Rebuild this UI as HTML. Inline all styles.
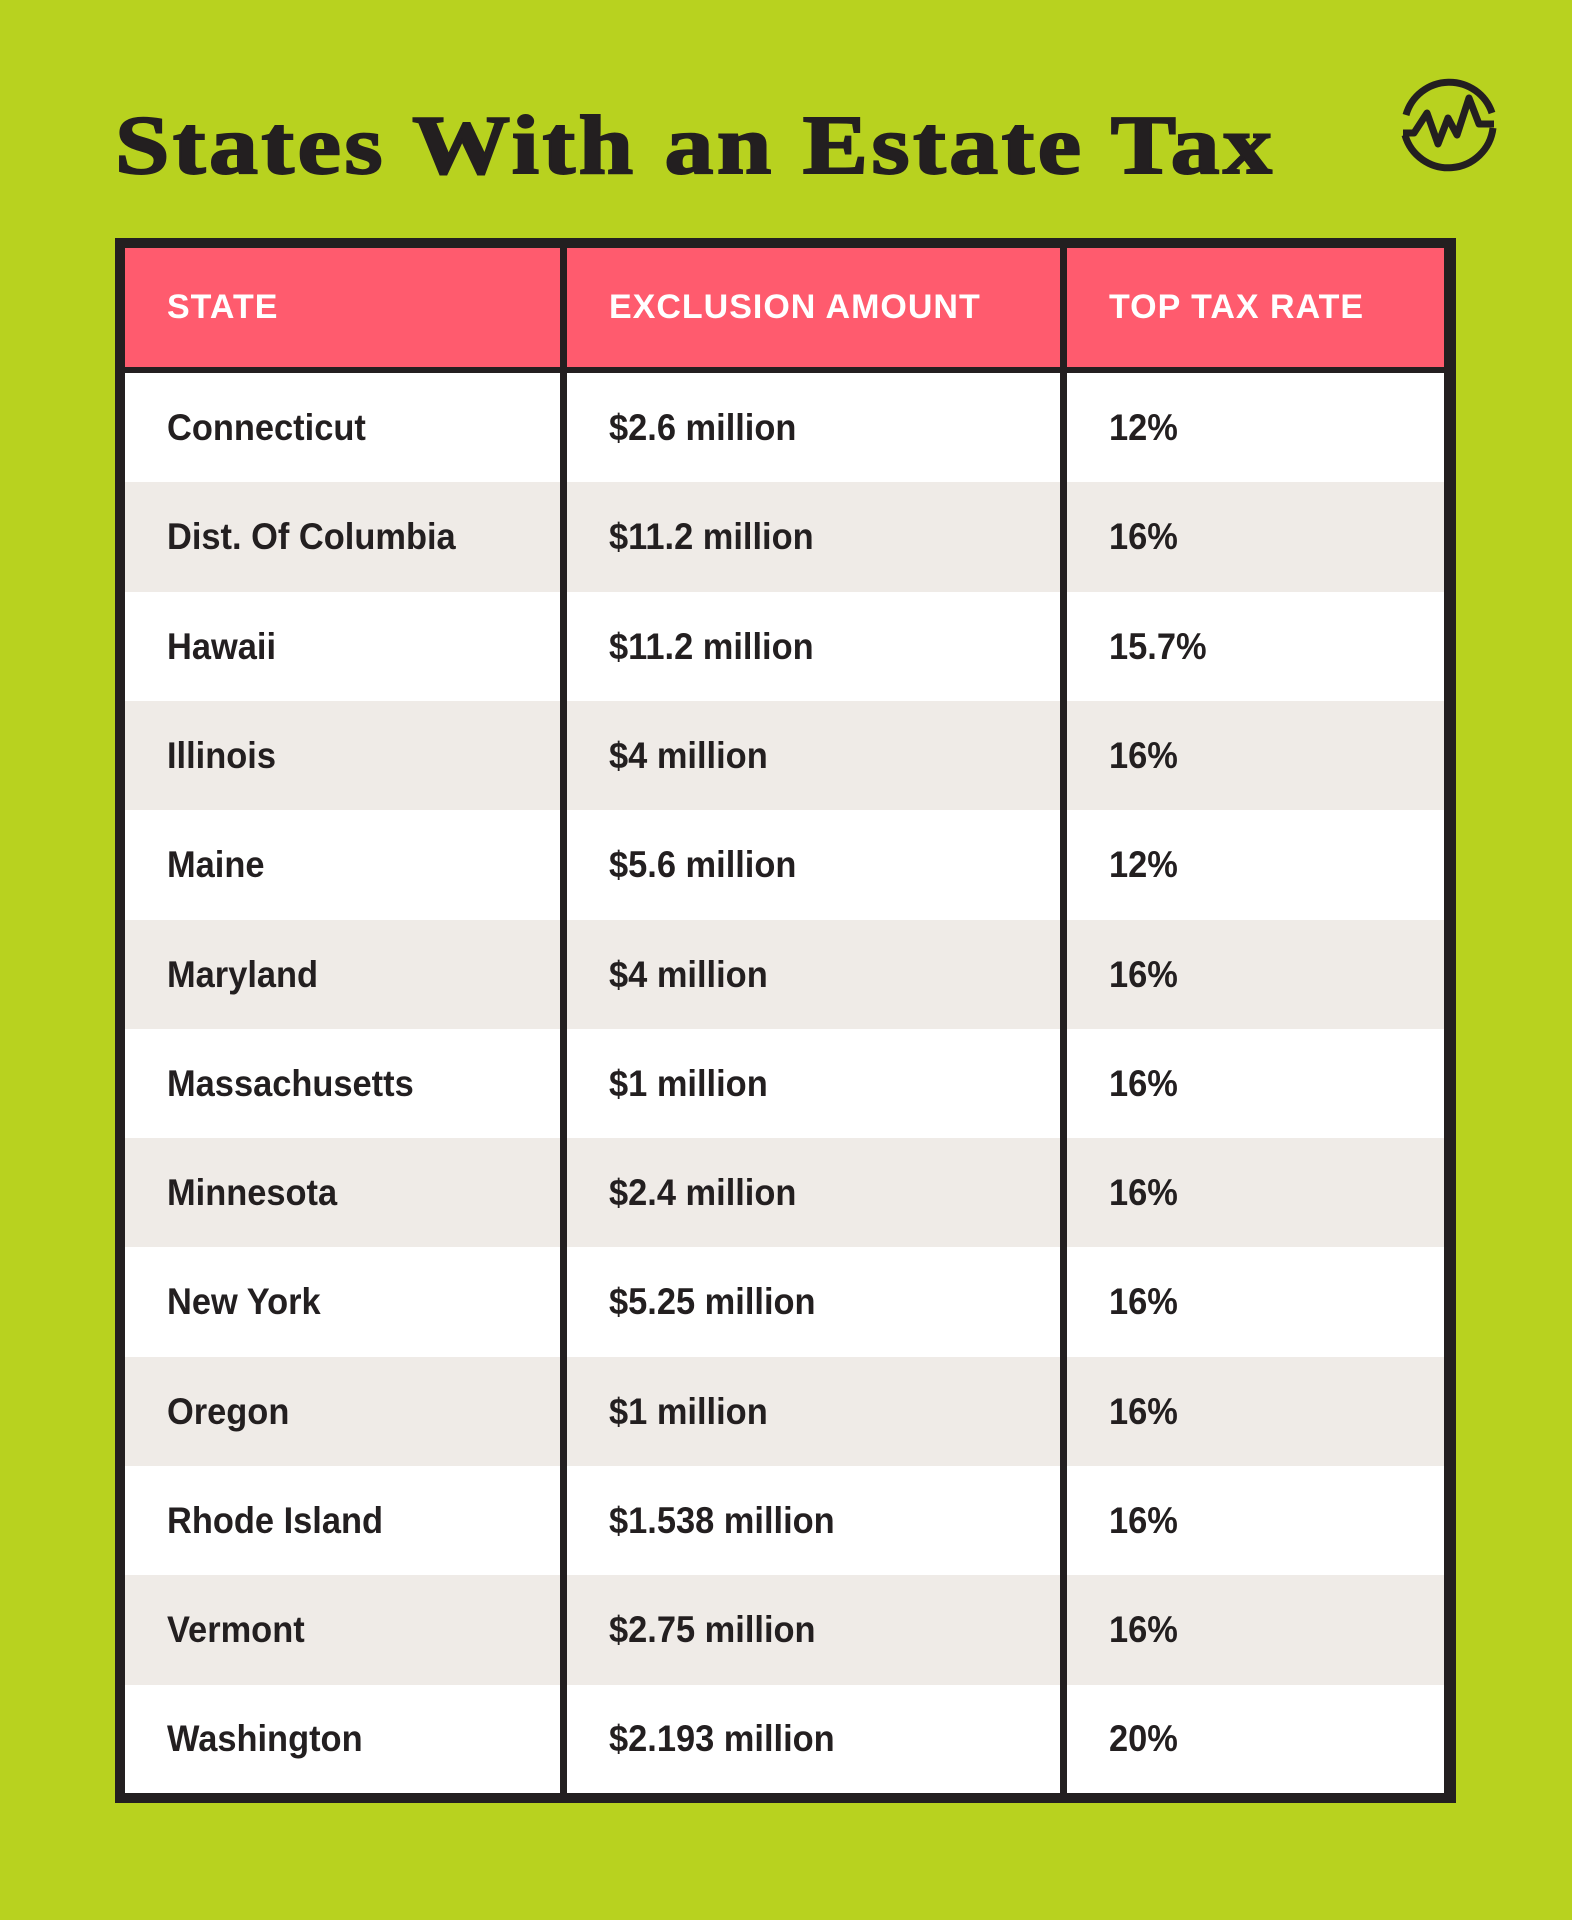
<!DOCTYPE html>
<html><head><meta charset="utf-8"><style>
html,body{margin:0;padding:0}
body{width:1572px;height:1920px;background:#b8d21f;position:relative;overflow:hidden;font-family:"Liberation Sans",sans-serif}
.title{position:absolute;left:115px;top:96px;font-family:"Liberation Serif",serif;font-weight:700;font-size:84px;line-height:100px;color:#231f20;letter-spacing:3px;-webkit-text-stroke:2px #231f20;white-space:nowrap;transform-origin:0 0;transform:scaleX(1.165)}
.tbl{position:absolute;left:115px;top:238px;width:1341px;height:1565px;background:#231f20}
.cell{position:absolute;box-sizing:border-box;display:flex;align-items:center;padding-left:42px;font-weight:700;color:#231f20;font-size:37px;white-space:nowrap}
.cell span{display:inline-block;transform-origin:0 50%;transform:scaleX(0.93)}
.hd{background:#ff5b6e;color:#fff;font-size:34px;letter-spacing:1px}
.hd span{transform:scaleX(1.0)}
</style></head><body>
<div class="title">States With an Estate Tax</div>
<svg style="position:absolute;left:1395px;top:70px" width="110" height="110" viewBox="1395 70 110 110">
<path d="M1406 115 A45 45 0 0 1 1492 113" fill="none" stroke="#231f20" stroke-width="7"/>
<path d="M1493 128 A45 45 0 0 1 1405 135" fill="none" stroke="#231f20" stroke-width="7"/>
<polyline points="1403,133 1414,133 1427,113 1438,144 1448,118 1457,135 1469,98 1479,124 1494,124" fill="none" stroke="#231f20" stroke-width="7" stroke-linejoin="round"/>
</svg>
<div class="tbl">
<div class="cell hd" style="left:10px;top:10px;width:435px;height:119px"><span>STATE</span></div>
<div class="cell hd" style="left:452px;top:10px;width:493px;height:119px"><span>EXCLUSION AMOUNT</span></div>
<div class="cell hd" style="left:952px;top:10px;width:377px;height:119px"><span>TOP TAX RATE</span></div>
</div>
<script>
var rows=[["Connecticut","$2.6 million","12%"],["Dist. Of Columbia","$11.2 million","16%"],["Hawaii","$11.2 million","15.7%"],["Illinois","$4 million","16%"],["Maine","$5.6 million","12%"],["Maryland","$4 million","16%"],["Massachusetts","$1 million","16%"],["Minnesota","$2.4 million","16%"],["New York","$5.25 million","16%"],["Oregon","$1 million","16%"],["Rhode Island","$1.538 million","16%"],["Vermont","$2.75 million","16%"],["Washington","$2.193 million","20%"]];
var t=document.querySelector('.tbl'),h='';
var cols=[[10,435],[452,493],[952,377]];
for(var i=0;i<13;i++){var y=135+i*109.3;var bg=i%2?'#efebe7':'#fff';
for(var c=0;c<3;c++){h+='<div class="cell" style="left:'+cols[c][0]+'px;top:'+y+'px;width:'+cols[c][1]+'px;height:'+(i==12?1555-y:110)+'px;background:'+bg+'"><span>'+rows[i][c]+'</span></div>';}}
t.insertAdjacentHTML('beforeend',h);
</script>
</body></html>
